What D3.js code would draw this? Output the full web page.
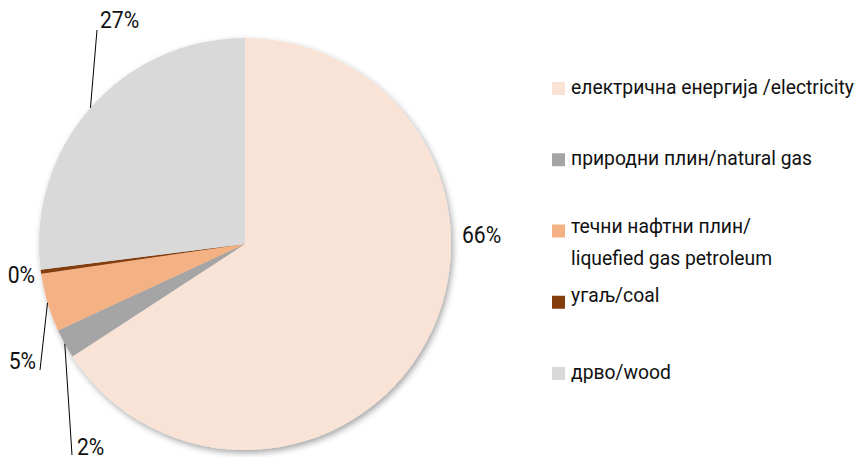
<!DOCTYPE html>
<html>
<head>
<meta charset="utf-8">
<script src="https://cdn.jsdelivr.net/npm/d3@7"></script>
<style>
  body { margin: 0; background: #fff; }
  text { font-family: Roboto, "Noto Sans", sans-serif; fill: #111; }
</style>
</head>
<body>
<div class="content"></div>
<script>
var width = 856
var height = 457

// data
var categories = ['електрична енергија /electricity', 'природни плин/natural gas',
    'течни нафтни плин/|liquefied gas petroleum', 'угаљ/coal', 'дрво/wood']
var shares = [65.8, 2.3, 4.6, 0.3, 27.0]
var pctLabels = ['66%', '2%', '5%', '0%', '27%']
var colors = ['#f9e3d6', '#a5a5a5', '#f4b183', '#843c0c', '#d9d9d9']

var cx = 245, cy = 244, radius = 206

var svg = d3.select('.content').append('svg')
    .attr('width', width)
    .attr('height', height)

var defs = svg.append('defs')
var shadow = defs.append('filter').attr('id', 'shadow')
    .attr('x', '-10%').attr('y', '-10%').attr('width', '125%').attr('height', '125%')
shadow.append('feDropShadow')
    .attr('dx', 2).attr('dy', 3).attr('stdDeviation', 3)
    .attr('flood-color', '#000').attr('flood-opacity', 0.35)

var pie = d3.pie().sort(null).value(function(d) { return d })
var arcs = pie(shares)

var arc = d3.arc().innerRadius(0).outerRadius(radius)

var g = svg.append('g').attr('transform', 'translate(' + cx + ',' + cy + ')')

g.append('g').attr('filter', 'url(#shadow)')
    .selectAll('path')
    .data(arcs)
    .enter().append('path')
    .attr('d', arc)
    .style('fill', function(d, i) { return colors[i] })

// label placement (Excel-like manual positions, relative to the pie centre)
// lx/ly = leader end, tx/ty = text anchor (vertical middle)
var labelPos = [
    { tx: 217, ty: -7, anchor: 'start' },
    { lx: -173, ly: 211, tx: -168, ty: 205, anchor: 'start' },
    { lx: -205, ly: 126, tx: -209, ty: 119, anchor: 'end' },
    { tx: -210, ty: 33, anchor: 'end' },
    { lx: -148, ly: -214, tx: -145, ty: -222, anchor: 'start' }
]

function edgePoint(d) {
    var a = (d.startAngle + d.endAngle) / 2
    return [radius * Math.sin(a), -radius * Math.cos(a)]
}

var labels = g.append('g').attr('class', 'labels')
arcs.forEach(function(d, i) {
    var p = labelPos[i]
    if (p.lx !== undefined) {
        var e = edgePoint(d)
        labels.append('line')
            .attr('x1', e[0]).attr('y1', e[1])
            .attr('x2', p.lx).attr('y2', p.ly)
            .style('stroke', '#000').style('stroke-width', 1)
    }
    labels.append('text')
        .attr('transform', 'translate(' + p.tx + ',' + p.ty + ') scale(0.88,1)')
        .attr('text-anchor', p.anchor)
        .attr('dominant-baseline', 'middle')
        .style('font-size', '24px')
        .text(pctLabels[i])
})

// legend
var legendY = d3.scalePoint().domain(d3.range(categories.length)).range([88, 373])
var legend = svg.append('g').attr('class', 'legend')
categories.forEach(function(c, i) {
    var y = legendY(i)
    var lines = c.split('|')
    legend.append('rect')
        .attr('x', 552).attr('y', y - 6)
        .attr('width', 13).attr('height', 13)
        .style('fill', colors[i])
    var ty = y
    if (lines.length > 1) ty = y - 3
    if (i === 3) ty = y - 5
    lines.forEach(function(t, k) {
        legend.append('text')
            .attr('transform', 'translate(571,' + (ty + k * 32) + ') scale(0.92,1)')
            .attr('dominant-baseline', 'middle')
            .style('font-size', '21px')
            .text(t)
    })
})
</script>
</body>
</html>
